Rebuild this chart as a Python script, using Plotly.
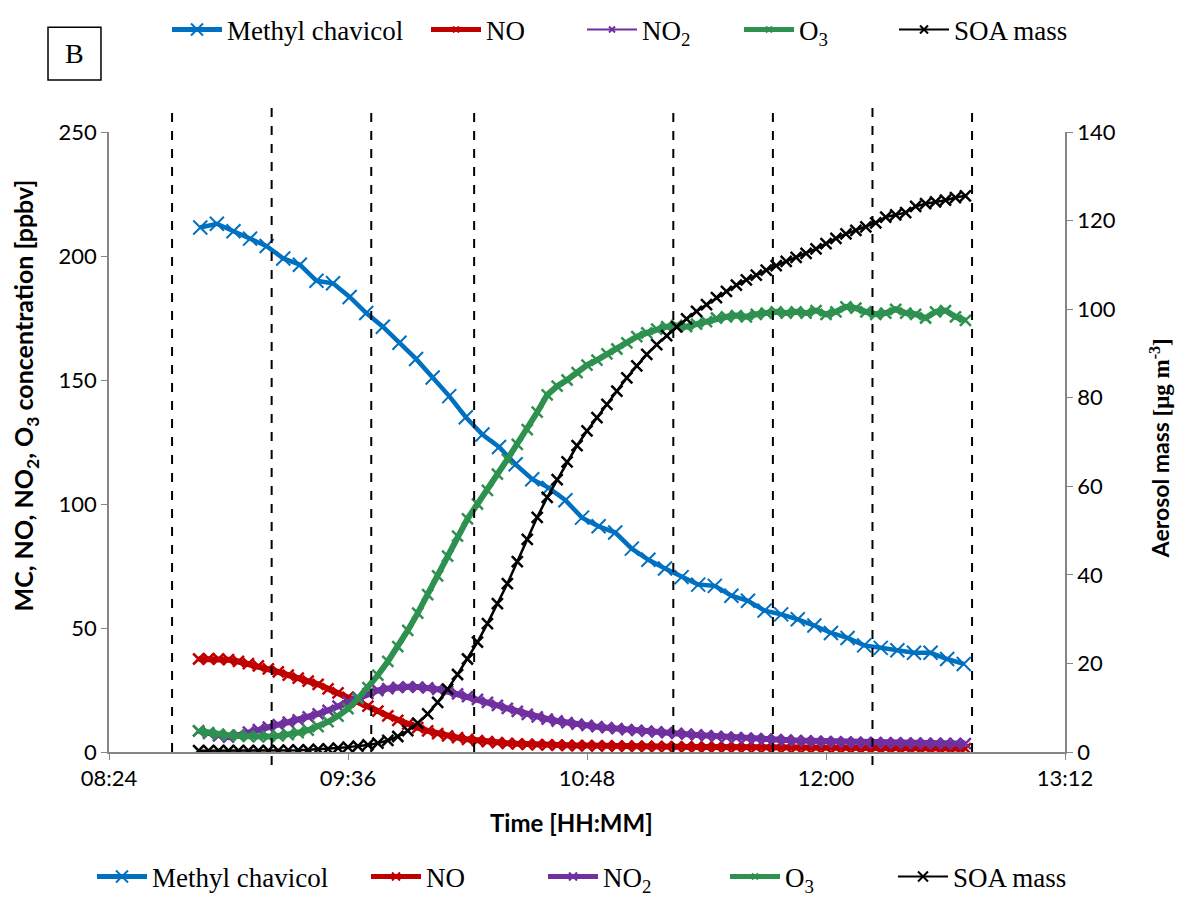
import plotly.graph_objects as go
import pandas as pd

# ---------------- data ----------------
base = "2000-01-01 "
# Methyl chavicol sampled every 5 min from 08:51:30
mc_times = pd.date_range(base + "08:51:30", periods=47, freq="5min")
mc = [211.5, 213, 210, 207, 204, 199, 196.5, 190, 189, 183.5,
      177, 171.5, 165, 158.5, 151, 143.5, 135, 128, 123, 116,
      110, 106.5, 101.5, 94.5, 91, 88.5, 82, 77.5, 74, 70.5,
      67.5, 67, 63, 61, 57, 55.5, 53.5, 51, 48, 46,
      43, 42, 41, 40, 40, 37.5, 35.5]

# NO, NO2, O3, SOA sampled every 3 min from 08:51
gas_times = pd.date_range(base + "08:51", periods=78, freq="3min")
no = [37.5, 37.6, 37.5, 37.2, 36.5, 35.6, 34.7, 33.5, 32.3, 31.0,
      29.8, 28.6, 27.3, 25.5, 23.8, 22.0, 20.3, 18.5, 16.5, 14.6,
      12.8, 11.2, 9.8, 8.5, 7.4, 6.5, 5.8, 5.1, 4.6, 4.2,
      3.8, 3.5, 3.3, 3.1, 3.0, 2.9, 2.8, 2.7, 2.6, 2.6,
      2.5, 2.5, 2.4, 2.4, 2.3, 2.3, 2.2, 2.2, 2.1, 2.1,
      2.0, 2.0, 2.0, 1.9, 1.9, 1.9, 1.8, 1.8, 1.8, 1.8,
      1.7, 1.7, 1.7, 1.7, 1.6, 1.6, 1.6, 1.6, 1.6, 1.5,
      1.5, 1.5, 1.5, 1.5, 1.5, 1.5, 1.4, 1.4]
no2 = [8.5, 7.5, 6.5, 6.0, 6.8, 8.0, 9.0, 10.0, 11.0, 12.0,
       13.0, 14.2, 15.4, 16.8, 18.5, 20.3, 22.0, 23.5, 24.8, 25.6,
       26.1, 26.3, 26.2, 25.9, 25.3, 24.4, 23.4, 22.3, 21.2, 20.0,
       18.8, 17.6, 16.4, 15.2, 14.2, 13.3, 12.5, 11.8, 11.2, 10.7,
       10.2, 9.8, 9.4, 9.0, 8.7, 8.4, 8.1, 7.8, 7.5, 7.2,
       6.9, 6.6, 6.3, 6.0, 5.8, 5.6, 5.4, 5.2, 5.0, 4.8,
       4.6, 4.5, 4.3, 4.2, 4.1, 4.0, 3.9, 3.8, 3.8, 3.7,
       3.7, 3.6, 3.6, 3.5, 3.5, 3.5, 3.4, 3.4]
o3 = [8.5, 7.8, 7.2, 6.8, 6.5, 6.3, 6.2, 6.2, 6.5, 7.0,
      7.8, 8.8, 10.2, 12.2, 14.5, 17.5, 21.5, 26, 31, 36.5,
      42.5, 49, 56, 63.5, 71, 79, 87, 94, 100, 105.5,
      112, 118, 124, 130, 137, 144, 147.5, 150, 153, 156,
      158, 160.5, 162.5, 165, 167.5, 169, 170.5, 171.5, 172, 171.5,
      172.5, 173.5, 175, 175.5, 176, 175.5, 176.5, 177, 177.5, 177,
      177.5, 177, 178, 176.5, 177.5, 179.5, 179, 177.5, 176.5, 177,
      178.5, 177, 176.5, 175, 177.5, 178, 175.5, 174]
soa = [0.3, 0.3, 0.3, 0.3, 0.3, 0.3, 0.3, 0.3, 0.3, 0.4,
       0.4, 0.5, 0.6, 0.7, 0.9, 1.1, 1.3, 1.6, 2.0, 2.6,
       3.5, 4.8, 6.5, 8.6, 11.2, 14.2, 17.5, 21, 24.8, 29,
       33.5, 38, 43, 48, 53, 57.5, 61.5, 65.5, 69.2, 72.5,
       75.5, 78.5, 81.5, 84.5, 87.2, 89.8, 92, 94, 96, 97.8,
       99.5, 101, 102.6, 104, 105.4, 106.6, 107.7, 108.8, 109.8, 110.8,
       111.7, 112.6, 113.6, 114.8, 116, 117, 117.8, 118.6, 119.5, 120.8,
       121.3, 121.8, 123.2, 123.8, 124.2, 124.6, 125.2, 125.6]

# experiment markers (vertical dashed lines)
event_times = ["08:43", "09:13", "09:43", "10:14", "11:14", "11:44", "12:14", "12:44"]
long_events = ["09:13", "12:14"]

names = ["Methyl chavicol", "NO", "NO<sub>2</sub>", "O<sub>3</sub>", "SOA mass"]
colors = ["#0070C0", "#C00000", "#7030A0", "#2E9150", "#000000"]

# ---------------- figure ----------------
W, H = 1184, 900
fig = go.Figure()

def mk(size, width, color):
    return dict(symbol="x-thin", size=size, line=dict(width=width, color=color), color=color)

fig.add_trace(go.Scatter(x=mc_times, y=mc, mode="lines+markers", showlegend=False,
                         line=dict(color=colors[0], width=4.5), marker=mk(14, 2, colors[0])))
fig.add_trace(go.Scatter(x=gas_times, y=no, mode="lines+markers", showlegend=False,
                         line=dict(color=colors[1], width=6), marker=mk(11, 2.5, colors[1])))
fig.add_trace(go.Scatter(x=gas_times, y=no2, mode="lines+markers", showlegend=False,
                         line=dict(color=colors[2], width=6), marker=mk(11, 2.5, colors[2])))
fig.add_trace(go.Scatter(x=gas_times, y=o3, mode="lines+markers", showlegend=False,
                         line=dict(color=colors[3], width=6), marker=mk(11, 2.5, colors[3])))
fig.add_trace(go.Scatter(x=gas_times, y=soa, mode="lines+markers", showlegend=False, yaxis="y2",
                         line=dict(color=colors[4], width=2.5), marker=mk(11, 2.5, colors[4])))

# legend-only entries: one small legend per entry (top row and bottom row)
top_w = [5, 5, 2, 5, 2]
top_ms = [12, 6, 6, 6, 8]
top_text_x = [228, 487, 643, 800, 955]
bot_w = [5, 5, 5, 5, 2]
bot_ms = [12, 8, 8, 6, 10]
bot_text_x = [153, 427, 604, 786, 954]
ITEMW = 50
TEXT_OFF = ITEMW + 11
leg_layout = {}
n = 0
for ws, mss, txs, ypix in [(top_w, top_ms, top_text_x, 30), (bot_w, bot_ms, bot_text_x, 877)]:
    for i in range(5):
        n += 1
        key = "legend" if n == 1 else f"legend{n}"
        fig.add_trace(go.Scatter(x=[None], y=[None], mode="lines+markers", name=names[i], legend=key,
                                 line=dict(color=colors[i], width=ws[i]), marker=mk(mss[i], 2, colors[i])))
        leg_layout[key] = dict(xref="container", yref="container",
                               x=(txs[i] - TEXT_OFF) / W, xanchor="left",
                               y=1 - ypix / H, yanchor="middle",
                               font=dict(family="Liberation Serif", size=27, color="black"),
                               bgcolor="rgba(0,0,0,0)", itemwidth=ITEMW, borderwidth=0)

for t in event_times:
    y0 = -0.021 if t in long_events else 0
    fig.add_shape(type="line", xref="x", yref="paper", x0=base + t, x1=base + t, y0=y0, y1=1.039,
                  line=dict(color="black", width=2, dash="dash"))

# "B" panel label
fig.add_shape(type="rect", xref="paper", yref="paper", x0=-0.0638, x1=-0.0084, y0=1.0839, y1=1.169,
              line=dict(color="black", width=1.5), fillcolor="white")
fig.add_annotation(xref="paper", yref="paper", x=-0.0361, y=1.1265, text="B", showarrow=False,
                   xanchor="center", yanchor="middle",
                   font=dict(family="Liberation Serif", size=28, color="black"))

# axis titles
fig.add_annotation(xref="paper", yref="paper", x=0.4833, y=-0.1145, showarrow=False,
                   xanchor="center", yanchor="middle", text="<b>Time [HH:MM]</b>",
                   font=dict(family="Lato", size=24, color="black"))
fig.add_annotation(xref="paper", yref="paper", x=-0.0879, y=0.575, showarrow=False, textangle=-90,
                   xanchor="center", yanchor="middle",
                   text="<b>MC, NO, NO<sub>2</sub>, O<sub>3</sub> concentration [ppbv]</b>",
                   font=dict(family="Lato", size=25, color="black"))
fig.add_annotation(xref="paper", yref="paper", x=1.0994, y=0.49, showarrow=False, textangle=-90,
                   xanchor="center", yanchor="middle",
                   text="<b>Aerosol mass <span style='font-family:Liberation Serif'>[μg m<sup>-3</sup>]</span></b>",
                   font=dict(family="Lato", size=23, color="black"))

axis_col = "#868686"
tick_font = dict(family="Lato", size=22, color="black")

# plot area in reference pixels: x 109..1065, y 132..752
fig.update_layout(
    width=W, height=H,
    margin=dict(l=109, r=W - 1065, t=132, b=H - 752, autoexpand=False),
    plot_bgcolor="white", paper_bgcolor="white",
    xaxis=dict(type="date", range=[base + "08:24", base + "13:12"], dtick=72 * 60 * 1000,
               tick0=base + "08:24", tickformat="%H:%M", showgrid=False, zeroline=False,
               showline=True, linecolor=axis_col, linewidth=1.5, ticks="outside",
               ticklen=6, tickcolor=axis_col, tickfont=tick_font),
    yaxis=dict(range=[0, 250], dtick=50, showgrid=False, zeroline=False, showline=True,
               linecolor=axis_col, linewidth=1.5, ticks="outside", ticklen=6, tickcolor=axis_col,
               tickfont=tick_font),
    yaxis2=dict(range=[0, 140], dtick=20, overlaying="y", side="right", showgrid=False,
                zeroline=False, showline=True, linecolor=axis_col, linewidth=1.5, ticks="outside",
                ticklen=6, tickcolor=axis_col, tickfont=tick_font),
    **leg_layout,
)

fig.write_html("out.html", config={"displayModeBar": False},
               post_script="document.body.style.margin='0px';")
